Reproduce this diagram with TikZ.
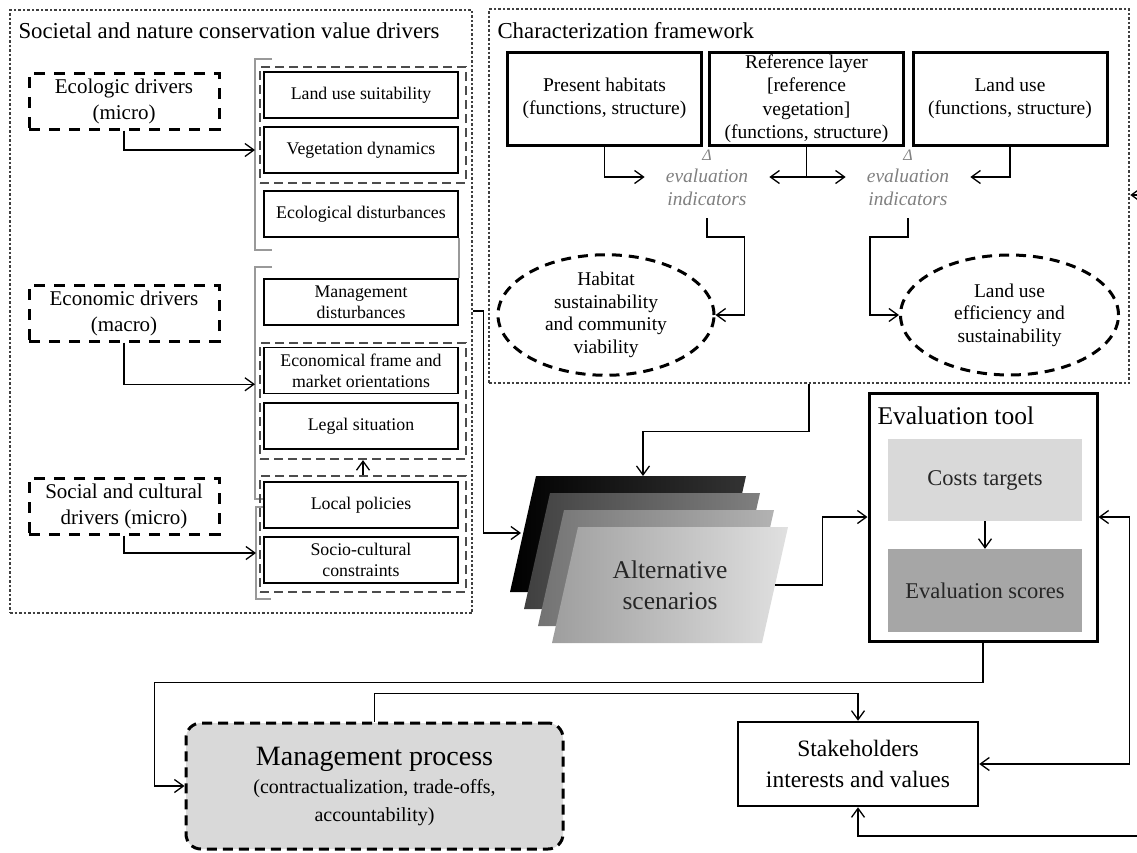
\documentclass[tikz,border=0pt]{standalone}
\usepackage{fontspec}
\setmainfont{Liberation Serif}
\usetikzlibrary{shapes.geometric, arrows.meta, positioning}

\begin{document}
\begin{tikzpicture}[x=1pt, y=-1pt, >={Straight Barb[length=9pt,width=13pt]},
	frm/.style={draw=black!75, line width=2.5pt, dotted, inner sep=0pt},
	drv/.style={draw, line width=3pt, dash pattern=on 11pt off 9pt,
		minimum width=190pt, minimum height=56pt, align=center, inner sep=0pt,
		font=\fontsize{21}{26}\selectfont},
	fct/.style={draw, line width=1.5pt, minimum width=194pt, minimum height=46pt,
		align=center, inner sep=0pt, font=\fontsize{17.8}{21}\selectfont},
	grp/.style={draw=black!70, line width=2.2pt, dash pattern=on 9pt off 5pt,
		minimum width=206pt, minimum height=116pt, inner sep=0pt},
	brk/.style={draw=black!40, line width=2pt},
	lyr/.style={draw, line width=3pt, minimum width=194pt, minimum height=93pt,
		align=center, inner sep=0pt, font=\fontsize{19.5}{23.5}\selectfont},
	ind/.style={text=black!50, align=center, inner xsep=21pt, inner ysep=0pt,
		font=\itshape\fontsize{19.5}{23}\selectfont},
	dlt/.style={text=black!50, inner sep=0pt, font=\itshape\fontsize{16}{16}\selectfont},
	gol/.style={ellipse, draw, line width=3pt, dash pattern=on 10pt off 7pt,
		minimum width=216pt, minimum height=120pt, align=center, inner sep=0pt,
		font=\fontsize{19.5}{22.5}\selectfont},
	arr/.style={->, line width=1.3pt}]
	\useasboundingbox (0,0) rectangle (1137,852);

	\node [frm, minimum width=462pt, minimum height=603pt] (soc) at (241,311.5) {};
	\node [anchor=west, font=\fontsize{22.8}{27}\selectfont] (soct) at (15,31) {Societal and nature conservation value drivers};
	\node [frm, minimum width=640pt, minimum height=374pt] (chr) at (809,196) {};
	\node [anchor=west, font=\fontsize{22.8}{27}\selectfont] (chrt) at (494,31) {Characterization framework};

	\node [drv] (ecod) at (124,101) {Ecologic drivers\\(micro)};
	\node [drv] (ecnd) at (124,313) {Economic drivers\\(macro)};
	\node [drv] (socd) at (124,506) {Social and cultural\\drivers (micro)};

	\draw [brk] (272,59) -- (255,59) -- (255,250) -- (272,250);
	\draw [brk] (272,267) -- (255,267) -- (255,499) -- (264,499);
	\draw [brk] (265,507) -- (256,507) -- (256,599) -- (271,599);
	\coordinate (bk1) at (255,59);
	\coordinate (bk2) at (255,267);
	\coordinate (bk3) at (256,507);

	\node [grp] (g1) at (363,125) {};
	\node [grp] (g2) at (363,401) {};
	\node [grp] (g3) at (363,534) {};

	\node [fct] (lus) at (361,95) {Land use suitability};
	\node [fct] (veg) at (361,150) {Vegetation dynamics};
	\node [fct] (eds) at (361,214) {Ecological disturbances};
	\node [fct] (mds) at (361,302) {Management\\disturbances};
	\node [fct] (emo) at (361,370.5) {Economical frame and\\market orientations};
	\node [fct] (leg) at (361,426) {Legal situation};
	\node [fct] (lop) at (361,505) {Local policies};
	\node [fct] (scc) at (361,560) {Socio-cultural\\constraints};
	\draw [brk] (eds.south east) -- (mds.north east);

	\draw [arr] (ecod.south) |- (bk1 |- veg.west);
	\draw [arr] (ecnd.south) |- ([yshift=10pt]bk2 |- emo.south);
	\draw [arr] (socd.south) |- ([yshift=7pt]bk3 |- scc.west);
	\draw [arr] (g3.north) -- (g2.south);

	\node [lyr] (prh) at (604.5,98.5) {Present habitats\\(functions, structure)};
	\node [lyr] (rfl) at (806.5,98.5) {Reference layer\\{[}reference\\vegetation{]}\\(functions, structure)};
	\node [lyr] (lnu) at (1010,98.5) {Land use\\(functions, structure)};

	\node [ind, label={[dlt, label distance=8pt]above:Δ}] (ei1) at (707,187.5) {evaluation\\indicators};
	\node [ind, label={[dlt, label distance=8pt]above:Δ}] (ei2) at (908,187.5) {evaluation\\indicators};
	\draw [arr] (prh.south) |- ([yshift=10.5pt]ei1.west);
	\draw [arr] (rfl.south) |- ([yshift=10.5pt]ei1.east);
	\draw [arr] (rfl.south) |- ([yshift=10.5pt]ei2.west);
	\draw [arr] (lnu.south) |- ([yshift=10.5pt]ei2.east);

	\node [gol] (hab) at (606,315) {Habitat\\sustainability\\and community\\viability};
	\node [gol, minimum width=218pt] (lue) at (1009.5,315) {Land use\\efficiency and\\sustainability};
	\draw [arr] ([yshift=-12pt]ei1.south) -- ++(0,19) -| ([xshift=29pt]hab.east) -- (hab.east);
	\draw [arr] ([yshift=-12pt]ei2.south) -- ++(0,19) -| ([xshift=-29pt]lue.west) -- (lue.west);

	\shade [left color=black, right color=black!80] (536,476) -- (746,476) -- (720,592) -- (510,592) -- cycle;
	\shade [left color=black!75, right color=black!50] (550,493) -- (760,493) -- (734,609) -- (524,609) -- cycle;
	\shade [left color=black!55, right color=black!30] (564,510) -- (774,510) -- (748,626) -- (538,626) -- cycle;
	\shade [left color=black!38, right color=black!12] (578,527) -- (788,527) -- (762,643) -- (552,643) -- cycle;
	\node [minimum width=210pt, minimum height=116pt, inner sep=0pt, align=center,
		text=black!85, font=\fontsize{25.5}{31}\selectfont] (scn) at (670,585) {Alternative\\scenarios};
	\coordinate (sct) at (643,476);
	\coordinate (scl) at (521,533);
	\draw [arr] (chr.south) -- ++(0,47) -| (sct);
	\draw [arr] ([yshift=-9pt]soc.east |- mds.east) -- ++(10,0) |- (scl);

	\node [draw, line width=3pt, minimum width=228pt, minimum height=248pt, inner sep=0pt] (evt) at (983,517) {};
	\node [anchor=west, font=\fontsize{25.5}{30}\selectfont] (evtt) at (874,416) {Evaluation tool};
	\node [fill=black!15, minimum width=194pt, minimum height=82pt, text=black!85,
		font=\fontsize{22.5}{26}\selectfont] (cst) at (985,480) {Costs targets};
	\node [fill=black!35, minimum width=194pt, minimum height=83pt, text=black!85,
		font=\fontsize{22.5}{26}\selectfont] (esc) at (985,590.5) {Evaluation scores};
	\draw [arr] (cst.south) -- (esc.north);
	\draw [arr] (scn.east) -- ++(47,0) |- (evt.west);

	\node [draw, line width=3pt, dash pattern=on 10pt off 6pt, rounded corners=15pt, fill=black!15,
		minimum width=377pt, minimum height=126pt, align=center,
		font=\fontsize{20}{28}\selectfont] (mgp) at (374.5,786) {{\fontsize{28}{28}\selectfont Management process}\\(contractualization, trade-offs,\\accountability)};
	\node [draw, line width=2.5pt, minimum width=240pt, minimum height=84pt, align=center,
		font=\fontsize{23.5}{31}\selectfont] (stk) at (858,764) {Stakeholders\\interests and values};

	\draw [arr, <->] (evt.east) -- ++(31,0) |- (stk.east);
	\draw [arr] (evt.south) -- ++(0,40) -| ([xshift=-30pt]mgp.west) -- (mgp.west);
	\draw [arr] (mgp.north) -- ++(0,-28) -| (stk.north);
	\coordinate (fb1) at (1137,195);
	\coordinate (fb2) at (1137,836);
	\draw [arr] (fb1) -- (chr.east |- fb1);
	\draw [arr] (fb2) -| (stk.south);
\end{tikzpicture}
\end{document}
